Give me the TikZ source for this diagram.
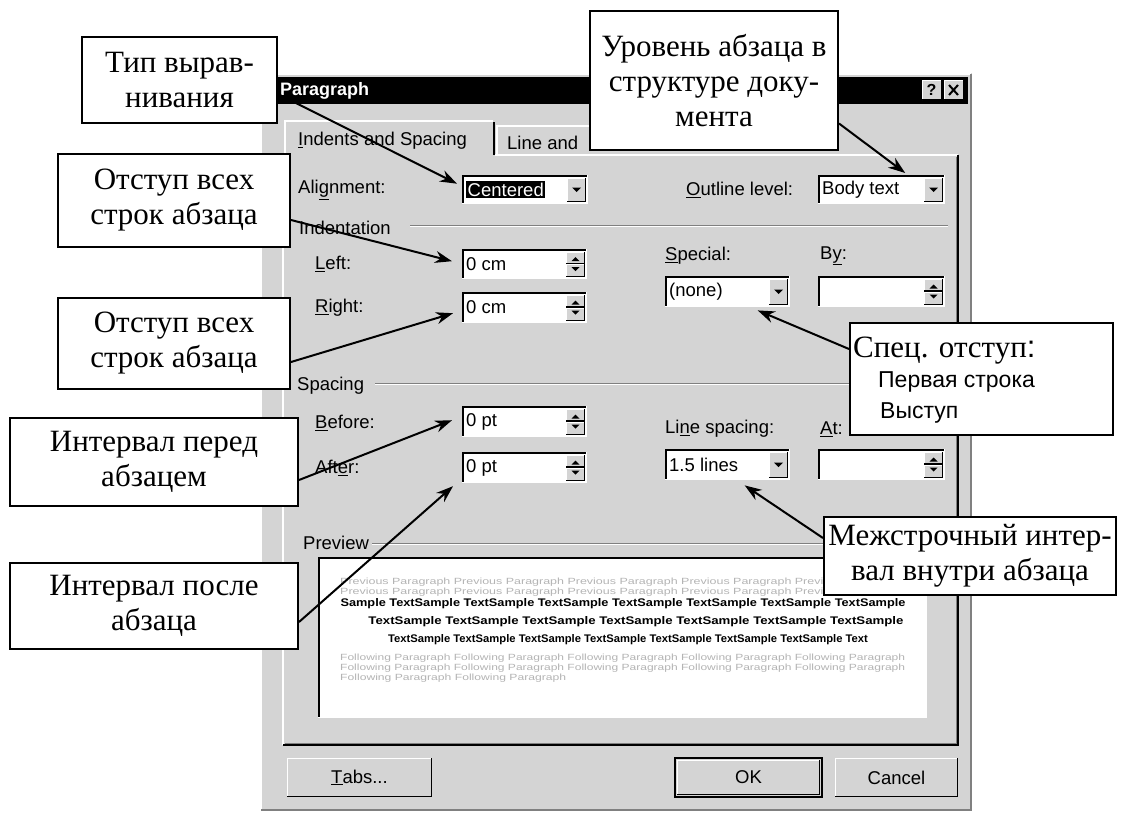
\documentclass[tikz,border=0pt]{standalone}
\usepackage{graphicx}
\usepackage{fontspec}
\setmainfont{Liberation Serif}
\newfontfamily\uifont{Liberation Sans}
\usetikzlibrary{positioning,arrows.meta,calc}
\definecolor{dlgGray}{RGB}{212,212,212}
\definecolor{dlgDark}{RGB}{128,128,128}
\definecolor{pvGray}{RGB}{180,180,180}
\newcommand{\calloutfont}{\fontsize{31}{35}\selectfont}
\newcommand{\dlgfont}{\uifont\fontsize{18.5}{20}\selectfont}

\tikzset{
  callout/.style={draw, line width=2pt, fill=white, align=center, inner sep=2pt, font=\calloutfont},
  pointer/.style={line width=2pt, -{Stealth[length=17pt,width=12pt]}},
  uilabel/.style={inner sep=0pt, anchor=west, font=\dlgfont},
  field/.style={fill=white, inner sep=0pt, anchor=north west},
  pvline/.style={inner sep=0pt, font=\uifont\fontsize{10}{10}\selectfont},
}

% sunken white field, named #1, corners (#2,#3) (#4,#5)
\newcommand{\sunkenfield}[5]{%
  \node[field, minimum width={(#4-#2)*1pt}, minimum height={(#5-#3)*1pt}] (#1) at (#2,#3) {};
  \draw[black, line width=2pt] ({#2+1},{#5}) -- ({#2+1},{#3+1}) -- ({#4},{#3+1});
  \draw[white, line width=1pt] ({#2},{#5-0.5}) -- ({#4-0.5},{#5-0.5}) -- ({#4-0.5},{#3});
}
% raised grey button face
\newcommand{\raisedbtn}[4]{%
  \fill[dlgGray] ({#1},{#2}) rectangle ({#3},{#4});
  \draw[white, line width=1pt] ({#1+0.5},{#4}) -- ({#1+0.5},{#2+0.5}) -- ({#3},{#2+0.5});
  \draw[black, line width=1.5pt] ({#1},{#4-0.75}) -- ({#3-0.75},{#4-0.75}) -- ({#3-0.75},{#2});
}
\newcommand{\combofield}[6]{%
  \sunkenfield{#1}{#2}{#3}{#4}{#5}
  \raisedbtn{#4-21}{#3+3}{#4-2}{#5-2}
  \fill ({#4-16},{(#3+#5)/2-2}) -- ({#4-7},{(#3+#5)/2-2}) -- ({#4-11.5},{(#3+#5)/2+2.5}) -- cycle;
  \node[uilabel] (#1text) at ({#2+4},{(#3+#5)/2}) {#6};
}
\newcommand{\spinfield}[6]{%
  \sunkenfield{#1}{#2}{#3}{#4}{#5}
  \raisedbtn{#4-21}{#3+3}{#4-2}{(#3+#5)/2}
  \raisedbtn{#4-21}{(#3+#5)/2}{#4-2}{#5-2}
  \fill ({#4-15.5},{(#3+#5)/2-3}) -- ({#4-7.5},{(#3+#5)/2-3}) -- ({#4-11.5},{(#3+#5)/2-7}) -- cycle;
  \fill ({#4-15.5},{(#3+#5)/2+3}) -- ({#4-7.5},{(#3+#5)/2+3}) -- ({#4-11.5},{(#3+#5)/2+7}) -- cycle;
  \node[uilabel] (#1text) at ({#2+4},{(#3+#5)/2}) {#6};
}

\begin{document}
\begin{tikzpicture}[x=1pt, y=-1pt]
  \useasboundingbox (0,0) rectangle (1135,812);
  \fill[white] (0,0) rectangle (1135,812);

  % dialog window
  \fill[dlgGray] (260,73) rectangle (972,810);
  \draw[white, line width=1.5pt] (261,810) -- (261,74) -- (971,74);
  \draw[dlgDark, line width=1.5pt] (971,74) -- (971,810) -- (261,810);
  \fill[black] (264,77) rectangle (968,104);
  \node[anchor=west, inner sep=0pt, text=white, font=\uifont\bfseries\fontsize{18}{20}\selectfont] (title) at (280,90.5) {Paragraph};
  \raisedbtn{922}{80}{942}{100}
  \node[inner sep=0pt, font=\uifont\bfseries\fontsize{16}{16}\selectfont] (helpbtn) at (931.5,90) {?};
  \raisedbtn{944}{80}{964}{100}
  \draw[line width=2pt] (949,85) -- (958,95);
  \draw[line width=2pt] (958,85) -- (949,95);

  % tab control
  \draw[white, line width=1.5pt] (283,745) -- (283,155) -- (958,155);
  \draw[black, line width=1.5pt] (283,745) -- (958,745) -- (958,155);
  \draw[dlgDark, line width=1pt] (285,743) -- (956,743) -- (956,157);
  \draw[white, line width=1.5pt] (497,155) -- (497,126) -- (700,126);
  \fill[dlgGray] (284,120) rectangle (495,156);
  \draw[white, line width=1.5pt] (285,156) -- (285,121) -- (493,121);
  \draw[black, line width=1.5pt] (494,122) -- (494,155);
  \node[uilabel] (tabindent) at (298,141) {\underline{I}ndents and Spacing};
  \node[uilabel] (tabbreaks) at (507,143) {Line and};

  % alignment row
  \node[uilabel] (alignlbl) at (298,190) {Ali\underline{g}nment:};
  \combofield{alignbox}{462}{175}{588}{204}{{\fboxsep=1.5pt\colorbox{black}{\textcolor{white}{Centered}}}}
  \node[uilabel] (outlinelbl) at (686,190) {\underline{O}utline level:};
  \combofield{levelbox}{818}{175}{945}{204}{Body text}

  % indentation group
  \node[uilabel] (indentlbl) at (299,228) {Indentation};
  \draw[dlgDark, line width=1pt] (410,225.5) -- (948,225.5);
  \draw[white, line width=1pt] (410,226.5) -- (948,226.5);
  \node[uilabel] (leftlbl) at (315,264) {\underline{L}eft:};
  \spinfield{leftbox}{462}{249}{587}{279}{0 cm}
  \node[uilabel] (rightlbl) at (315,308) {\underline{R}ight:};
  \spinfield{rightbox}{462}{292}{587}{323}{0 cm}
  \node[uilabel] (speciallbl) at (665,256) {\underline{S}pecial:};
  \node[uilabel] (bylbl) at (820,256) {B\underline{y}:};
  \combofield{specialbox}{665}{276}{790}{307}{(none)}
  \spinfield{bybox}{818}{276}{945}{307}{}

  % spacing group
  \node[uilabel] (spacinglbl) at (297,386) {Spacing};
  \draw[dlgDark, line width=1pt] (375,383.5) -- (948,383.5);
  \draw[white, line width=1pt] (375,384.5) -- (948,384.5);
  \node[uilabel] (beforelbl) at (315,423) {\underline{B}efore:};
  \spinfield{beforebox}{462}{406}{587}{437}{0 pt}
  \node[uilabel] (afterlbl) at (315,468) {Aft\underline{e}r:};
  \spinfield{afterbox}{462}{452}{587}{483}{0 pt}
  \node[uilabel] (linesplbl) at (665,429) {Li\underline{n}e spacing:};
  \node[uilabel] (atlbl) at (820,429) {\underline{A}t:};
  \combofield{linebox}{665}{449}{790}{480}{1.5 lines}
  \spinfield{atbox}{818}{449}{945}{480}{}

  % preview
  \node[uilabel] (previewlbl) at (303,543) {Preview};
  \draw[dlgDark, line width=1pt] (372,543.5) -- (948,543.5);
  \draw[white, line width=1pt] (372,544.5) -- (948,544.5);
  \sunkenfield{preview}{318}{557}{927}{718}
  \node[pvline, anchor=west, text=pvGray] (prev1) at (340,582) {\resizebox{565pt}{6.5pt}{Previous Paragraph Previous Paragraph Previous Paragraph Previous Paragraph Previous Paragraph}};
  \node[pvline, anchor=west, text=pvGray] (prev2) at (340,592) {\resizebox{565pt}{6.5pt}{Previous Paragraph Previous Paragraph Previous Paragraph Previous Paragraph Previous Paragraph}};
  \node[pvline, font=\uifont\bfseries] (sample1) at (623,604) {\resizebox{565pt}{8pt}{Sample TextSample TextSample TextSample TextSample TextSample TextSample TextSample}};
  \node[pvline, font=\uifont\bfseries] (sample2) at (636,622) {\resizebox{535pt}{8pt}{TextSample TextSample TextSample TextSample TextSample TextSample TextSample}};
  \node[pvline, font=\uifont\bfseries] (sample3) at (628,640) {\resizebox{480pt}{8pt}{TextSample TextSample TextSample TextSample TextSample TextSample TextSample Text}};
  \node[pvline, anchor=west, text=pvGray] (next1) at (340,658) {\resizebox{565pt}{6.5pt}{Following Paragraph Following Paragraph Following Paragraph Following Paragraph Following Paragraph}};
  \node[pvline, anchor=west, text=pvGray] (next2) at (340,668) {\resizebox{565pt}{6.5pt}{Following Paragraph Following Paragraph Following Paragraph Following Paragraph Following Paragraph}};
  \node[pvline, anchor=west, text=pvGray] (next3) at (340,678) {\resizebox{226pt}{6.5pt}{Following Paragraph Following Paragraph}};

  % buttons
  \raisedbtn{287}{758}{432}{797}
  \node[uilabel, anchor=center] (tabsbtn) at (359.5,777.5) {\underline{T}abs...};
  \draw[black, line width=1.5pt] (675,758) rectangle (822,797);
  \raisedbtn{677}{760}{820}{795}
  \node[uilabel, anchor=center] (okbtn) at (748.5,777.5) {OK};
  \raisedbtn{835}{758}{958}{797}
  \node[uilabel, anchor=center] (cancelbtn) at (896.5,777.5) {Cancel};

  % callouts
  \node[callout, minimum width=195pt, minimum height=86pt] (typ) at (179.5,80) {Тип вырав-\\нивания};
  \node[callout, minimum width=248pt, minimum height=139pt] (level) at (714,80.5) {Уровень абзаца в\\структуре доку-\\мента};
  \node[callout, minimum width=232pt, minimum height=93pt] (indleft) at (174,200.5) {Отступ всех\\строк абзаца};
  \node[callout, minimum width=232pt, minimum height=91pt] (indright) at (174,343.5) {Отступ всех\\строк абзаца};
  \node[callout, minimum width=288pt, minimum height=88pt] (before) at (154,462) {Интервал перед\\абзацем};
  \node[callout, minimum width=288pt, minimum height=86pt] (after) at (154,606) {Интервал после\\абзаца};
  \node[callout, minimum width=263pt, minimum height=112pt] (special) at (981.5,379) {};
  \node[anchor=base west, inner sep=0pt, font=\calloutfont] (specialhead) at (853,357) {Спец. отступ{\uifont:}};
  \node[anchor=base west, inner sep=0pt, font=\uifont\fontsize{23}{25}\selectfont] (specialfirst) at (878,387) {Первая строка};
  \node[anchor=base west, inner sep=0pt, font=\uifont\fontsize{23}{25}\selectfont] (specialhang) at (880,418) {Выступ};
  \node[callout, minimum width=292pt, minimum height=78pt] (linesp) at (970,556) {Межстрочный интер-\\вал внутри абзаца};

  % pointers
  \draw[pointer] ($(typ.east)+(0,14)$) -- ($(alignbox.west)+(-5,-6)$);
  \draw[pointer] ($(level.east)+(0,43)$) -- ($(levelbox.north)+(23.5,-2)$);
  \draw[pointer] ($(indleft.east)+(0,19.5)$) -- ($(leftbox.west)+(-10,-3)$);
  \draw[pointer] ($(indright.east)+(0,18.5)$) -- ($(rightbox.west)+(-9,5.5)$);
  \draw[pointer] ($(before.east)+(0,18)$) -- ($(beforebox.west)+(-10,-1.5)$);
  \draw[pointer] ($(after.east)+(0,16)$) -- ($(afterbox.west)+(-9,18.5)$);
  \draw[pointer] ($(special.west)+(0,-30)$) -- ($(specialbox.south)+(30,3)$);
  \draw[pointer] ($(linesp.west)+(0,-18)$) -- ($(linebox.south)+(17,5)$);
\end{tikzpicture}
\end{document}
